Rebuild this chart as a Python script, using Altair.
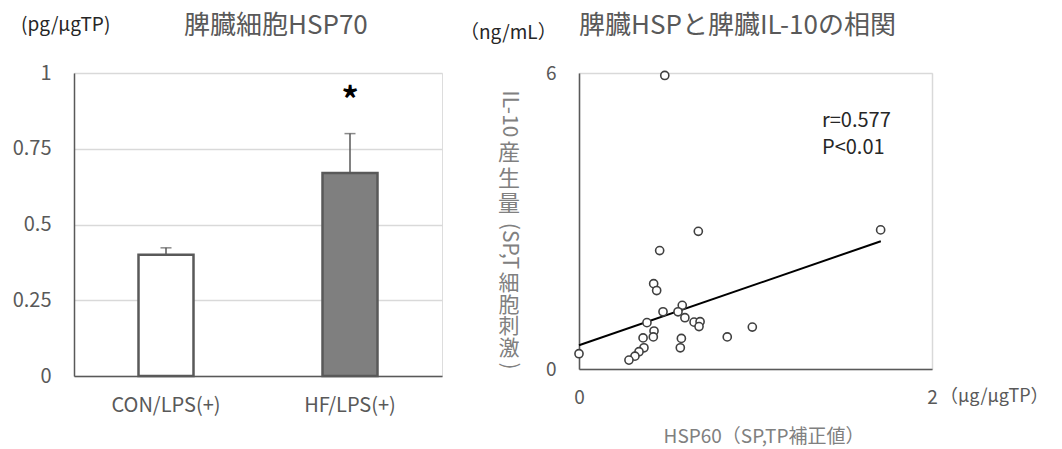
import altair as alt
import pandas as pd

# ---------------- data ----------------
groups = ["CON/LPS(+)", "HF/LPS(+)"]
means = [0.40, 0.67]
errors = [0.023, 0.13]
bar_fills = ["#ffffff", "#7f7f7f"]
sig_marks = ["", "*"]
sig_y = [0.93, 0.93]

hsp60 = [0.0, 0.676, 1.709, 0.457, 0.423, 0.44, 0.476, 0.585, 0.561, 0.60,
         0.652, 0.686, 0.68, 0.385, 0.425, 0.421, 0.363, 0.368, 0.34, 0.317,
         0.283, 0.58, 0.574, 0.84, 0.982, 0.486]
il10 = [0.31, 2.79, 2.82, 2.40, 1.73, 1.59, 1.16, 1.29, 1.16, 1.04,
        0.95, 0.96, 0.86, 0.94, 0.77, 0.65, 0.63, 0.43, 0.35, 0.26,
        0.18, 0.62, 0.43, 0.65, 0.85, 5.95]
fit_x = [0.0, 1.71]
fit_y = [0.48, 2.59]

left_title = "脾臓細胞HSP70"
left_unit = "(pg/μgTP)"
right_title = "脾臓HSPと脾臓IL-10の相関"
right_unit_y = "（ng/mL）"
right_unit_x = "（μg/μgTP）"
right_xtitle = "HSP60（SP,TP補正値）"
stats_text = "r=0.577\nP<0.01"
# vertical y-axis title of the right panel, split into rotated / upright parts
vt_rot_1 = "IL-10"
vt_up_1 = "産\n生\n量"
vt_rot_2 = "(SP,T"
vt_up_2 = "細\n胞\n刺\n激"
vt_rot_3 = ")"

FONT = "Noto Sans CJK JP"
GRAY = "#595959"
LIGHT = "#d9d9d9"

# ---------------- left panel ----------------
bar_df = pd.DataFrame({"group": groups, "mean": means, "err": errors,
                       "fill": bar_fills, "sig": sig_marks, "sig_y": sig_y})
bar_df["upper"] = bar_df["mean"] + bar_df["err"]

x_axis_l = alt.Axis(title=None, labelAngle=0, labelFontSize=20, labelColor=GRAY,
                    labelPadding=19, ticks=False, domainColor=GRAY, domainWidth=1.5,
                    grid=False, labelFont=FONT)
x_scale_l = alt.Scale(paddingInner=0, paddingOuter=0)
y_axis_l = alt.Axis(title=None, values=[0, 0.25, 0.5, 0.75, 1],
                    labelExpr="'' + datum.value",
                    grid=True, gridColor=LIGHT, gridWidth=1.5, domainColor=GRAY,
                    domainWidth=1.5, ticks=False, labelPadding=23, labelFontSize=20,
                    labelColor=GRAY, labelFont=FONT)
y_scale_l = alt.Scale(domain=[0, 1], nice=False)

def xl():
    return alt.X("group:N", sort=groups, scale=x_scale_l, axis=x_axis_l)

def yl(field):
    return alt.Y(field, scale=y_scale_l, axis=y_axis_l)

base_l = alt.Chart(bar_df)
bars = base_l.mark_bar(size=55, stroke=GRAY, strokeWidth=2.5).encode(
    x=xl(), y=yl("mean:Q"), fill=alt.Fill("fill:N", scale=None))
err_rule = base_l.mark_rule(color=GRAY, strokeWidth=1.5).encode(
    x=xl(), y=yl("mean:Q"), y2="upper:Q")
err_cap = base_l.mark_tick(color=GRAY, size=11, thickness=1.5).encode(
    x=xl(), y=yl("upper:Q"))
aster = base_l.mark_text(fontSize=34, fontWeight="bold", color="black", dy=8,
                         font=FONT).encode(x=xl(), y=yl("sig_y:Q"), text="sig:N")


def label(text, x, y, size, color, align="left", angle=0, line_height=None):
    kw = dict(align=align, baseline="middle", fontSize=size, color=color, font=FONT,
              angle=angle, lineBreak="\n")
    if line_height is not None:
        kw["lineHeight"] = line_height
    return alt.Chart(pd.DataFrame({"t": [text]})).mark_text(**kw).encode(
        text="t:N", x=alt.value(x), y=alt.value(y))


t_left_title = label(left_title, 110, -47, 26, GRAY)
t_left_unit = label(left_unit, -53, -48, 19, "#262626")

left = alt.layer(bars, err_rule, err_cap, aster, t_left_title, t_left_unit).properties(
    width=368, height=303)

# ---------------- right panel ----------------
sc_df = pd.DataFrame({"hsp60": hsp60, "il10": il10})
fit_df = pd.DataFrame({"hsp60": fit_x, "il10": fit_y})

x_axis_r = alt.Axis(title=None, values=[0, 2], grid=True, gridColor=LIGHT, gridWidth=1.5,
                    ticks=False, domainColor=GRAY, domainWidth=1.5, labelPadding=19,
                    labelFontSize=19, labelColor=GRAY, labelFlush=False, labelFont=FONT)
y_axis_r = alt.Axis(title=None, values=[0, 6], grid=True, gridColor=LIGHT, gridWidth=1.5,
                    ticks=False, domainColor=GRAY, domainWidth=1.5, labelPadding=23,
                    labelFontSize=19, labelColor=GRAY, labelFlush=False, labelFont=FONT)
xr = alt.X("hsp60:Q", scale=alt.Scale(domain=[0, 2], nice=False), axis=x_axis_r)
yr = alt.Y("il10:Q", scale=alt.Scale(domain=[0, 6], nice=False), axis=y_axis_r)

fit_line = alt.Chart(fit_df).mark_line(color="black", strokeWidth=2).encode(x=xr, y=yr)
points = alt.Chart(sc_df).mark_point(shape="circle", filled=True, fill="white",
                                     stroke="#404040", strokeWidth=1.6, size=66,
                                     opacity=1).encode(x=xr, y=yr)

t_stats = label(stats_text, 243, 48, 20, "#262626", line_height=27)
t_right_title = label(right_title, 0, -47, 26, GRAY)
t_right_unit_y = label(right_unit_y, -119, -40, 19, "#262626")
t_right_unit_x = label(right_unit_x, 361, 324, 18, GRAY)
t_right_xtitle = label(right_xtitle, 185, 364, 19, "#808080", align="center")
VG = "#808080"
v1 = label(vt_rot_1, -70, 41, 21, VG, align="center", angle=90)
v2 = label(vt_up_1, -70, 80, 22, VG, align="center", line_height=25.5)
v3 = label(vt_rot_2, -70, 173, 21, VG, align="center", angle=90)
v4 = label(vt_up_2, -70, 211, 21, VG, align="center", line_height=21.5)
v5 = label(vt_rot_3, -70, 293, 21, VG, align="center", angle=90)

right = alt.layer(fit_line, points, t_stats, t_right_title, t_right_unit_y,
                  t_right_unit_x, t_right_xtitle, v1, v2, v3, v4, v5).properties(
    width=353, height=296)

chart = alt.hconcat(left, right, spacing=137, bounds="flush").properties(
    padding={"left": 3, "top": 4, "right": 0, "bottom": 0}
).configure_view(stroke=None).configure(font=FONT)

chart.save("out.html", embed_options={"renderer": "svg", "actions": False})
